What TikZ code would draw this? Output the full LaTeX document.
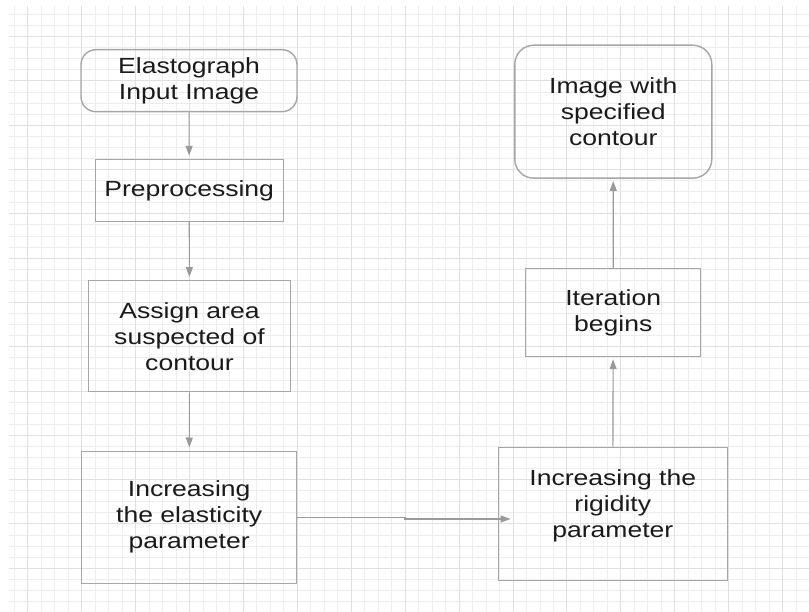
\documentclass[tikz,border=0pt]{standalone}
\usepackage{fontspec}
\setmainfont{Liberation Sans}
\newfontfamily\boxfont[FakeStretch=1.212]{Liberation Sans}
\usetikzlibrary{
    arrows.meta,
    positioning,
    calc
}
\definecolor{gridminor}{HTML}{EDEDED}
\definecolor{gridmajor}{HTML}{E0E0E0}
\definecolor{boxline}{HTML}{A6A6A6}
\definecolor{arrowline}{HTML}{9A9A9A}
\definecolor{dark}{HTML}{1A1A1A}
\tikzset{
    % Step box style
    stepbox/.style={
        rectangle,
        draw=boxline,
        line width=1.4pt,
        align=center,
        inner sep=0pt,
        font={\boxfont\fontsize{21.9}{26}\selectfont},
        text=dark
    },
    % Rounded start / end box
    terminal/.style={
        stepbox,
        rounded corners=#1
    },
    % Arrow style
    flow/.style={
        -{Triangle[length=10pt, width=7pt]},
        line width=1.1pt,
        color=arrowline
    },
    % Grid styles
    grid minor/.style={gridminor, line width=1pt},
    grid major/.style={gridmajor, line width=1pt}
}
\begin{document}
\begin{tikzpicture}[x=1pt, y=-1pt]
        \useasboundingbox (0,0) rectangle (809,612);

        % Background grid
        \foreach \k in {-5,...,53} {
            \draw[grid minor] ({int(81.7+13.48*\k)+0.5},6) -- ({int(81.7+13.48*\k)+0.5},612);
        }
        \foreach \k in {-2,...,51} {
            \draw[grid minor] (9,{int(36.7+11.075*\k)+0.5}) -- (809,{int(36.7+11.075*\k)+0.5});
        }
        \foreach \k in {-4,0,...,52} {
            \draw[grid major] ({int(81.7+13.48*\k)+0.5},6) -- ({int(81.7+13.48*\k)+0.5},612);
        }
        \foreach \k in {0,4,...,48} {
            \draw[grid major] (9,{int(36.7+11.075*\k)+0.5}) -- (809,{int(36.7+11.075*\k)+0.5});
        }

        % Left column
        \node[terminal=15pt, minimum width=216pt, minimum height=62pt] (input) at (189,80.7) {Elastograph\\Input Image};
        \node[stepbox, minimum width=188pt, minimum height=62pt] (prep) at (189.2,190.5) {Preprocessing};
        \node[stepbox, minimum width=202pt, minimum height=111pt] (assign) at (189.5,336.3) {Assign area\\suspected of\\contour};
        \node[stepbox, minimum width=215pt, minimum height=132pt] (elast) at (189.2,517.2) {Increasing\\the elasticity\\parameter};

        % Right column
        \node[stepbox, minimum width=229pt, minimum height=133pt] (rigid) at (612.8,513.7) {};
        \node[font={\boxfont\fontsize{21.9}{26}\selectfont}, text=dark, align=center] (rigidtext) at (612.8,505.5) {Increasing the\\rigidity\\parameter};
        \node[stepbox, minimum width=175pt, minimum height=88pt] (iter) at (613.2,312.5) {Iteration\\begins};
        \node[terminal=19pt, minimum width=197pt, minimum height=133pt] (result) at (613.3,111.7) {Image with\\specified\\contour};

        % Connections
        \coordinate (jog) at (405,519);
        \draw[flow, shorten >=3pt] (input) -- (prep);
        \draw[flow, shorten >=3pt] (prep) -- (assign);
        \draw[flow, shorten >=3pt] (assign) -- (elast);
        \draw[flow, shorten >=-13pt] (elast.east) -- (elast.east -| jog) -- (jog) -- (jog -| rigid.west);
        \draw[flow, shorten >=2pt] (rigid) -- (iter);
        \draw[flow, shorten >=2pt] (iter) -- (result);

    \end{tikzpicture}
\end{document}
